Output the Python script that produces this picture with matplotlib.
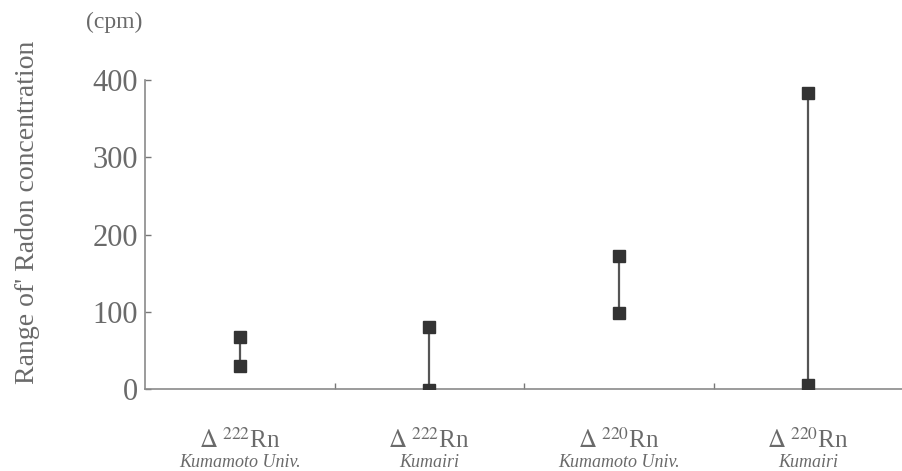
import numpy as np
import matplotlib.pyplot as plt

plt.rcParams['font.family'] = ['Liberation Serif', 'DejaVu Serif']
plt.rcParams['mathtext.fontset'] = 'stix'

isotopes = [r'$\Delta\;^{222}$Rn', r'$\Delta\;^{222}$Rn', r'$\Delta\;^{220}$Rn', r'$\Delta\;^{220}$Rn']
sites = ['Kumamoto Univ.', 'Kumairi', 'Kumamoto Univ.', 'Kumairi']
low = [30, -1, 98, 5]
high = [68, 80, 172, 383]
yticks = [0, 100, 200, 300, 400]

txt = '#6a6a6a'
ink = '#333333'

fig = plt.figure(figsize=(9.03, 4.71), dpi=100)
ax = fig.add_axes([0.1606, 0.174, 0.8394, 0.656])

x = np.arange(1, len(sites) + 1)
for xi, lo, hi in zip(x, low, high):
    ax.plot([xi, xi], [lo, hi], color='#555555', lw=1.6, zorder=2)
    ax.plot([xi, xi], [lo, hi], ls='none', marker='s', ms=9,
            color=ink, zorder=3)

ax.set_xlim(0.5, 4.5)
ax.set_ylim(0, 400)
ax.set_yticks(yticks)
ax.set_yticklabels([str(v) for v in yticks], fontsize=22, color=txt)
ax.set_xticks(np.arange(1.5, 4.5, 1))
ax.set_xticklabels([])
ax.tick_params(axis='both', direction='in', length=4, width=1, color='#777777')
ax.tick_params(axis='y', pad=5)
for s in ['top', 'right']:
    ax.spines[s].set_visible(False)
for s in ['left', 'bottom']:
    ax.spines[s].set_color('#8a8a8a')
    ax.spines[s].set_linewidth(1.2)

trans = ax.get_xaxis_transform()
for xi, iso, site in zip(x, isotopes, sites):
    ax.text(xi, -0.167, iso, transform=trans, ha='center', va='center',
            fontsize=18, color=txt)
    ax.text(xi, -0.238, site, transform=trans, ha='center', va='center',
            fontsize=13, style='italic', color=txt)

fig.text(0.031, 0.55, "Range of' Radon concentration", fontsize=20, color=txt,
         rotation=90, ha='center', va='center')
fig.text(0.126, 0.953, '(cpm)', fontsize=17, color=txt, ha='center', va='center')

fig.savefig('out.png', dpi=100, facecolor='white')
